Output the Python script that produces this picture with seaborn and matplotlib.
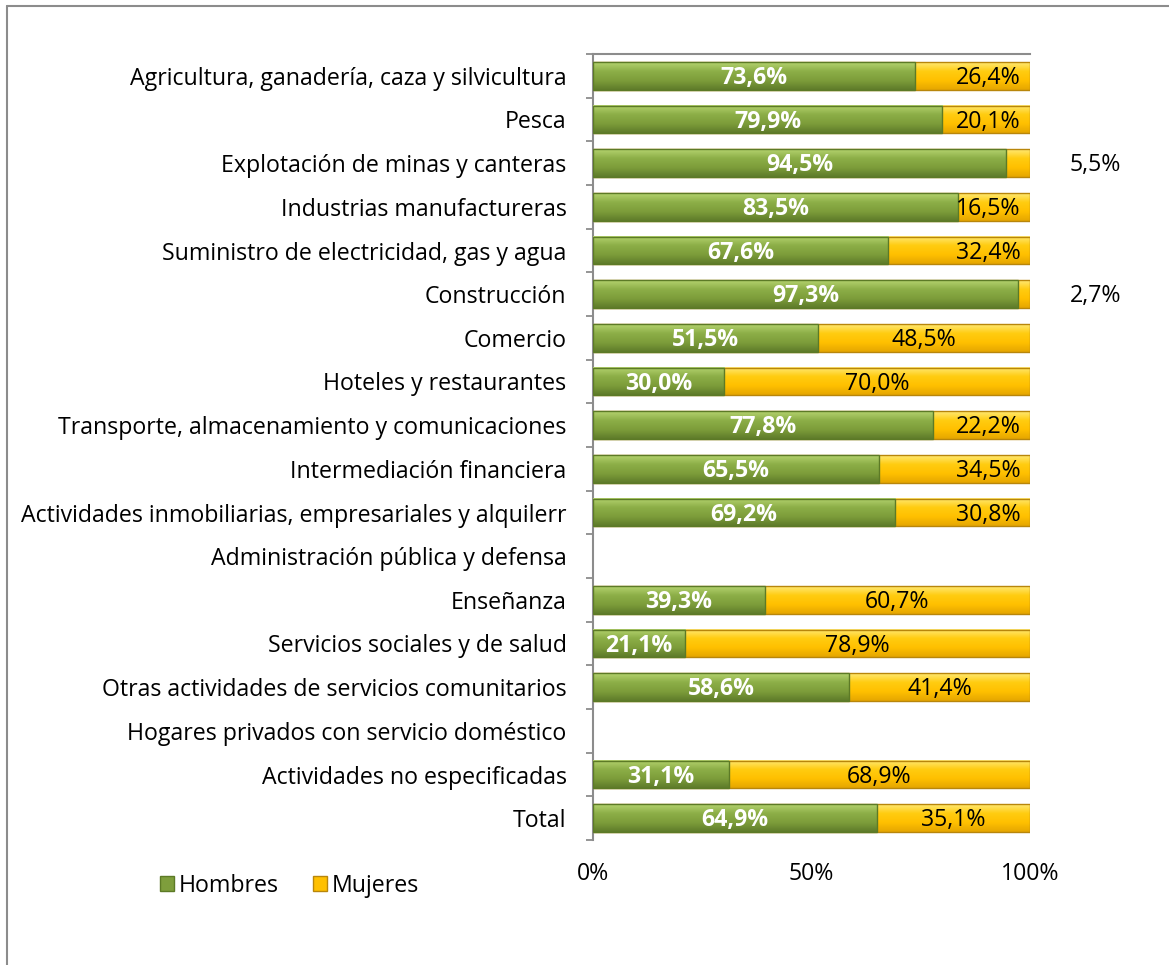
import numpy as np
import pandas as pd
import seaborn as sns
import matplotlib.pyplot as plt
from matplotlib.patches import Patch
from matplotlib.lines import Line2D
from matplotlib.colors import LinearSegmentedColormap
from matplotlib.ticker import FixedLocator, PercentFormatter

categories = [
    "Agricultura, ganadería, caza y silvicultura",
    "Pesca",
    "Explotación de minas y canteras",
    "Industrias manufactureras",
    "Suministro de electricidad, gas y agua",
    "Construcción",
    "Comercio",
    "Hoteles y restaurantes",
    "Transporte, almacenamiento y comunicaciones",
    "Intermediación financiera",
    "Actividades inmobiliarias, empresariales y alquilerr",
    "Administración pública y defensa",
    "Enseñanza",
    "Servicios sociales y de salud",
    "Otras actividades de servicios comunitarios",
    "Hogares privados con servicio doméstico",
    "Actividades no especificadas",
    "Total",
]
hombres = [73.6, 79.9, 94.5, 83.5, 67.6, 97.3, 51.5, 30.0, 77.8, 65.5, 69.2,
           np.nan, 39.3, 21.1, 58.6, np.nan, 31.1, 64.9]
mujeres = [26.4, 20.1, 5.5, 16.5, 32.4, 2.7, 48.5, 70.0, 22.2, 34.5, 30.8,
           np.nan, 60.7, 78.9, 41.4, np.nan, 68.9, 35.1]
series_names = ["Hombres", "Mujeres"]
x_ticks = [0, 50, 100]

GREEN = "#7E9E3C"
GREEN_EDGE = "#5C7A26"
YELLOW = "#FFC000"
YELLOW_EDGE = "#B8860B"
GRAY = "#8C8C8C"
FONT = ["Open Sans", "DejaVu Sans"]

sns.set_theme(style="white")
plt.rcParams["font.family"] = FONT
plt.rcParams["text.color"] = "black"

W, H = 1169, 965
fig = plt.figure(figsize=(W / 100, H / 100), dpi=100)
ax = fig.add_axes([593 / W, 1 - 840 / H, (1030 - 593) / W, (840 - 54) / H])

df = pd.DataFrame({"cat": categories, "h": hombres, "m": mujeres})
df["total"] = df["h"] + df["m"]

bw = 0.63
sns.barplot(data=df, y="cat", x="total", orient="h", color=YELLOW, width=bw,
            edgecolor=YELLOW_EDGE, linewidth=1.0, saturation=1, ax=ax, order=categories)
n_y = len(ax.patches)
sns.barplot(data=df, y="cat", x="h", orient="h", color=GREEN, width=bw,
            edgecolor=GREEN_EDGE, linewidth=1.0, saturation=1, ax=ax, order=categories)

cmap_g = LinearSegmentedColormap.from_list("g", ["#B4D36E", "#8CAE47", "#7D9D3A", "#5E7B2A"])
cmap_y = LinearSegmentedColormap.from_list("y", ["#FFE873", "#FFCC10", "#FFC000", "#E5A600"])
grad = np.linspace(0, 1, 64).reshape(-1, 1)
for k, p in enumerate(ax.patches):
    x0, y0 = p.get_x(), p.get_y()
    w, h = p.get_width(), p.get_height()
    if not np.isfinite(w) or w <= 0:
        continue
    cm = cmap_y if k < n_y else cmap_g
    im = ax.imshow(grad, cmap=cm, aspect="auto", extent=(x0, x0 + w, y0 + h, y0),
                   interpolation="bilinear")
    p.set_facecolor("none")
    im.set_zorder(1 + (k >= n_y) * 2)
    p.set_zorder(1.5 + (k >= n_y) * 2)

ax.set_xlim(0, 100)
ax.set_ylim(len(categories) - 0.5, -0.5)
ax.set_xlabel("")
ax.set_ylabel("")

fs = 16.7
ax.set_xticks(x_ticks)
ax.xaxis.set_major_formatter(PercentFormatter(100, decimals=0))
ax.tick_params(axis="x", length=0, pad=16, labelsize=fs, colors="black")
ax.tick_params(axis="y", which="major", length=0, pad=19, labelsize=fs, colors="black")
ax.yaxis.set_minor_locator(FixedLocator(np.arange(-0.5, len(categories), 1.0)))
ax.tick_params(axis="y", which="minor", length=5, width=1.3, color=GRAY, left=True)

for s in ["right", "bottom"]:
    ax.spines[s].set_visible(False)
for s in ["left", "top"]:
    ax.spines[s].set_color(GRAY)
    ax.spines[s].set_linewidth(1.5)
ax.grid(False)

def fmt(v):
    return f"{v:.1f}%".replace(".", ",")

dy = 0.05
for i, (h, m) in enumerate(zip(hombres, mujeres)):
    if not np.isfinite(h):
        continue
    ax.text(h / 2, i + dy, fmt(h), ha="center", va="center", color="white",
            fontsize=fs, fontweight="bold", zorder=6)
    if m < 10:
        xc = 115
    elif m < 35:
        xc = 90.5
    else:
        xc = h + m / 2
    ax.text(xc, i + dy, fmt(m), ha="center", va="center", color="black",
            fontsize=fs, clip_on=False, zorder=6)

handles = [Patch(facecolor=GREEN, edgecolor=GREEN_EDGE),
           Patch(facecolor=YELLOW, edgecolor=YELLOW_EDGE)]
fig.legend(handles, series_names, loc="center left",
           bbox_to_anchor=(160 / W, 1 - 886 / H), ncol=2, frameon=False,
           fontsize=fs, handlelength=0.6, handleheight=0.6, labelcolor="black",
           handletextpad=0.22, columnspacing=1.45, borderpad=0, borderaxespad=0)

fig.add_artist(Line2D([7 / W, 7 / W], [0, 1 - 6 / H], transform=fig.transFigure,
                      color=GRAY, lw=1.5))
fig.add_artist(Line2D([7 / W, 1], [1 - 6 / H, 1 - 6 / H], transform=fig.transFigure,
                      color=GRAY, lw=1.5))

fig.savefig("out.png", dpi=100, facecolor="white")
